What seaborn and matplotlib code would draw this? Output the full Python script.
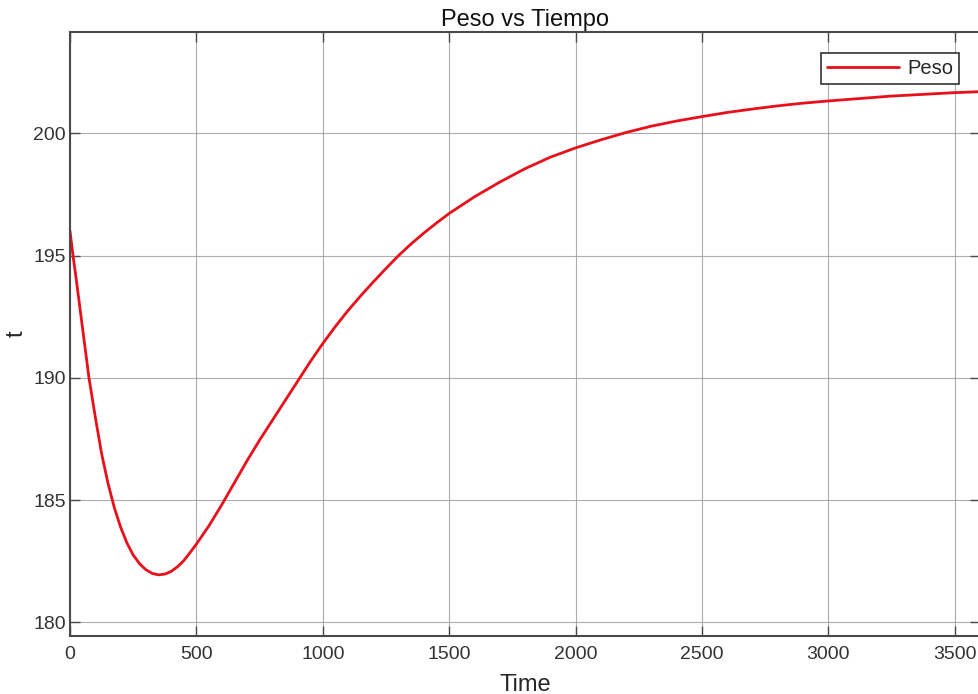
import numpy as np
import pandas as pd
import matplotlib
matplotlib.use("Agg")
import matplotlib.pyplot as plt
import seaborn as sns

# Datos (Peso vs Tiempo)
tiempo = [0, 10, 25, 50, 75, 100, 125, 150, 175, 200, 225, 250, 275, 300, 325,
          350, 375, 400, 425, 450, 475, 500, 550, 600, 650, 700, 750, 800, 850,
          900, 950, 1000, 1050, 1100, 1150, 1200, 1250, 1300, 1350, 1400, 1450,
          1500, 1600, 1700, 1800, 1900, 2000, 2100, 2200, 2300, 2400, 2500,
          2600, 2700, 2800, 2900, 3000, 3250, 3500, 3600]
peso = [196.0, 195.15, 194.0, 192.0, 190.0, 188.4, 186.9, 185.7, 184.7, 183.9,
        183.25, 182.75, 182.4, 182.15, 182.0, 181.94, 181.97, 182.08, 182.27,
        182.52, 182.85, 183.2, 183.95, 184.8, 185.7, 186.6, 187.45, 188.25,
        189.05, 189.85, 190.65, 191.4, 192.1, 192.75, 193.35, 193.92, 194.47,
        195.0, 195.48, 195.92, 196.33, 196.72, 197.4, 198.0, 198.55, 199.02,
        199.4, 199.73, 200.03, 200.29, 200.5, 200.68, 200.85, 200.99, 201.12,
        201.23, 201.32, 201.52, 201.66, 201.70]

x_ticks = [0, 500, 1000, 1500, 2000, 2500, 3000, 3500]
y_ticks = [180, 185, 190, 195, 200]

df = pd.DataFrame({"Time": tiempo, "Peso": peso})

sns.set_theme(style="white")
plt.rcParams["font.family"] = ["Liberation Sans", "DejaVu Sans"]

fig = plt.figure(figsize=(9.79, 6.94), dpi=100)
ax = fig.add_axes([70 / 979, 58 / 694, 910 / 979, 604 / 694])

sns.lineplot(data=df, x="Time", y="Peso", color="#e8101a", linewidth=2,
             label="Peso", ax=ax)

ax.set_xlim(0, 3600)
ax.set_ylim(179.44, 204.14)
ax.set_xticks(x_ticks)
ax.set_yticks(y_ticks)

ax.grid(True, color="#9a9a9a", linewidth=0.8, alpha=0.8)
ax.set_axisbelow(True)
for s in ax.spines.values():
    s.set_color("#4a4a4a")
    s.set_linewidth(1.5)
    s.set_visible(True)

ax.tick_params(axis="both", direction="in", length=7, width=1, color="#4a4a4a",
               labelsize=14, labelcolor="#333333", top=True, right=True,
               bottom=True, left=True)
ax.tick_params(axis="x", pad=7)
ax.tick_params(axis="y", pad=3)

ax.set_title("Peso vs Tiempo", fontsize=17, color="#111111", pad=4)
ax.set_xlabel("Time", fontsize=17, color="#262626", labelpad=8)
ax.set_ylabel("t", fontsize=17, color="#262626", labelpad=4)

leg = ax.legend(loc="upper right", bbox_to_anchor=(0.977, 0.965),
                fontsize=14.5, frameon=True, fancybox=False, framealpha=1,
                edgecolor="#333333", handlelength=3.55, borderaxespad=0,
                borderpad=0.3, handletextpad=0.4)
leg.get_frame().set_linewidth(1.2)
for t in leg.get_texts():
    t.set_color("#262626")

fig.savefig("out.png", dpi=100)
